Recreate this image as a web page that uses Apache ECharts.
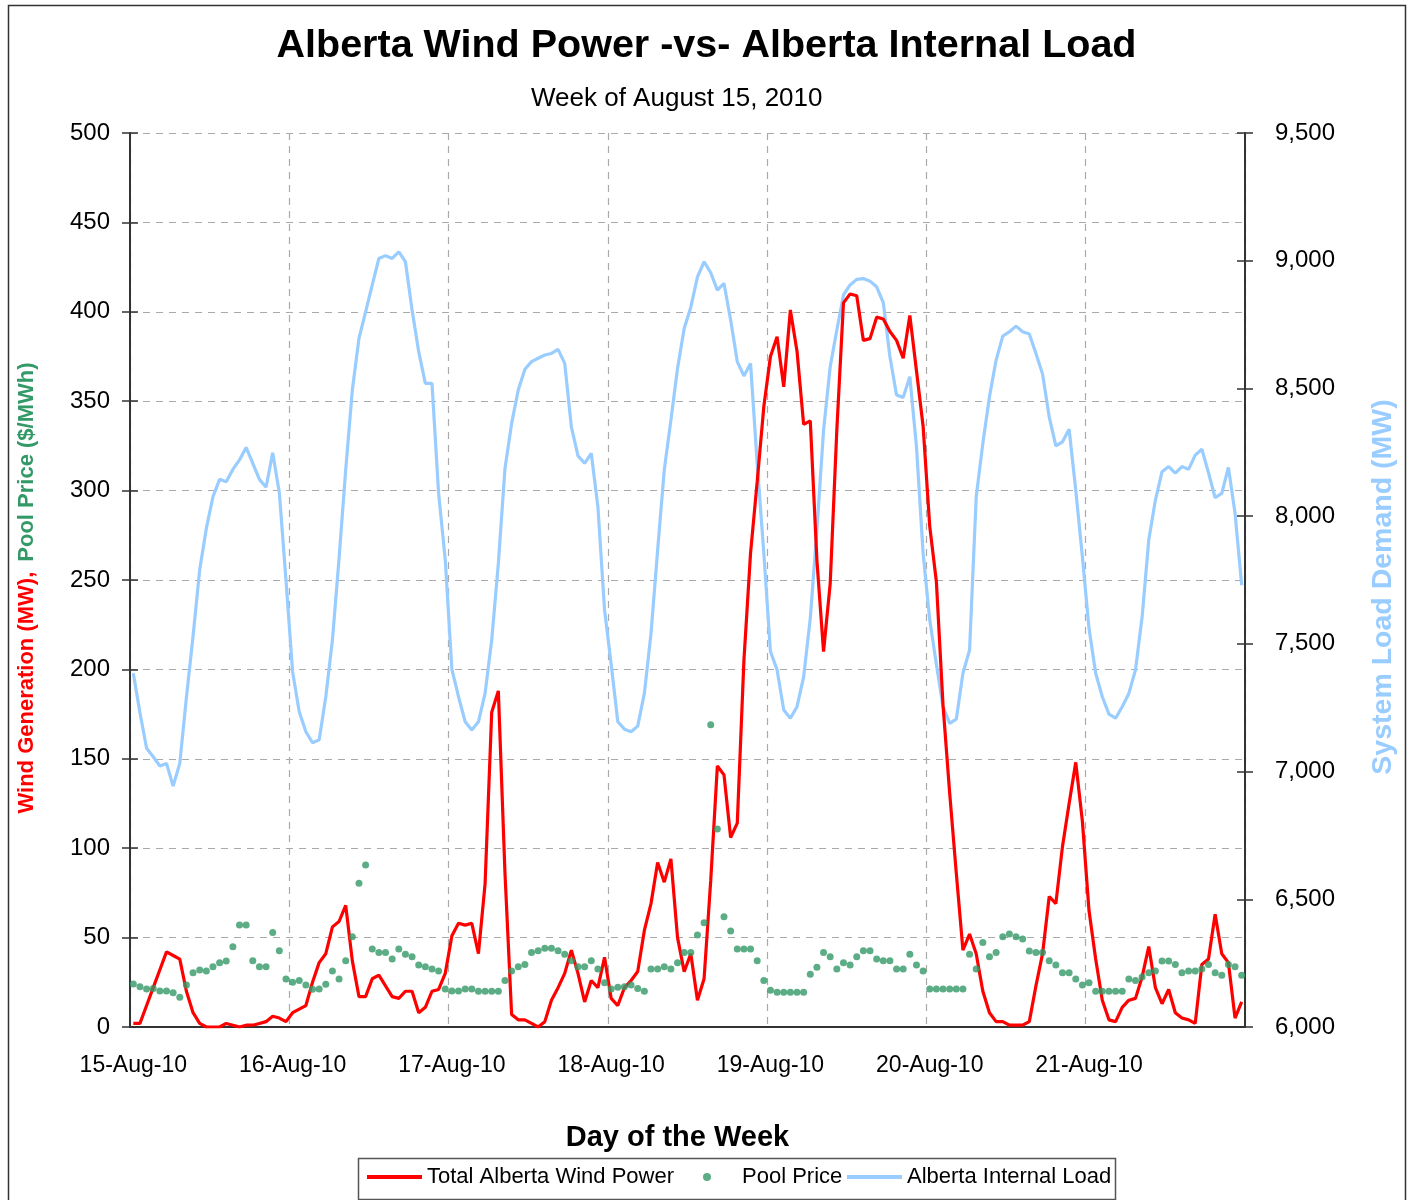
<!DOCTYPE html>
<html>
<head>
<meta charset="utf-8">
<title>Alberta Wind Power -vs- Alberta Internal Load</title>
<script src="https://cdn.jsdelivr.net/npm/echarts@6/dist/echarts.min.js"></script>
<style>
  html, body { margin: 0; padding: 0; background: #fff; }
  #chart { width: 1413px; height: 1200px; }
</style>
</head>
<body>
<div id="chart"></div>
<script>
// one label per day, 24 hourly points each
let days = ['15-Aug-10', '16-Aug-10', '17-Aug-10', '18-Aug-10', '19-Aug-10', '20-Aug-10', '21-Aug-10'];

// Total Alberta Wind Power (MW), hourly
let windPower = [
    2, 2, 12, 22, 32, 42, 40, 38, 20, 8, 2, 0, 0, 0, 2, 1, 0, 1, 1, 2, 3, 6, 5, 3,
    8, 10, 12, 25, 36, 41, 56, 59, 68, 37, 17, 17, 27, 29, 23, 17, 16, 20, 20, 8, 11, 20, 21, 30,
    51, 58, 57, 58, 41, 80, 176, 188, 86, 7, 4, 4, 2, 0, 3, 15, 22, 30, 43, 30, 14, 26, 22, 39,
    16, 12, 22, 26, 31, 54, 69, 92, 81, 94, 50, 31, 41, 15, 27, 82, 146, 141, 106, 114, 205, 265,
    305, 347, 375, 386, 358, 401, 378, 337, 339, 261, 210, 248, 334, 405, 410, 409, 384, 385, 397, 396,
    389, 384, 374, 398, 367, 336, 280, 249, 180, 131, 86, 43, 52, 41, 20, 8, 3, 3, 1, 1,
    1, 3, 23, 41, 73, 69, 101, 125, 148, 115, 65, 38, 15, 4, 3, 11, 15, 16, 28, 45,
    22, 13, 21, 8, 5, 4, 2, 35, 38, 63, 41, 36, 5, 14
];

// Pool Price ($/MWh), hourly
let poolPrice = [
    24, 22.5, 21.3, 21.6, 20.1, 20.1, 19.2, 16.6, 23.5, 30.4, 31.9, 31.3, 33.7, 36, 36.9, 44.9, 57, 57, 37, 33.7, 33.7, 52.8, 42.7, 26.8,
    25, 26, 23.5, 21.1, 21.3, 23.9, 31.3, 26.8, 37, 50.5, 80.4, 90.6, 43.6, 41.6, 41.6, 38, 43.6, 40.7, 39.3, 34.7, 33.7, 32.4, 31.3, 21.3,
    20.1, 20.1, 21.3, 21.3, 20, 20, 20, 20, 26, 31.3, 33.7, 35, 41.6, 42.7, 44, 44, 42.7, 40.7, 37, 33.7, 33.7, 37, 32.4, 24.8,
    21.3, 22.2, 22.5, 23.5, 21.6, 20, 32.4, 32.4, 33.7, 32.4, 36, 41.6, 41.6, 51.5, 58.3, 169, 110.7, 61.7, 53.7, 43.6, 43.6, 43.6,
    37, 26, 20.5, 19.4, 19.4, 19.4, 19.4, 19.4, 29.5, 33.4, 41.6, 39.3, 32.4, 36, 34.7, 39.3, 42.7, 42.7, 38, 37,
    37, 32.4, 32.4, 40.7, 34.7, 31.3, 21.3, 21.3, 21.3, 21.3, 21.3, 21.3, 40.7, 32.4, 47.2, 39.3, 41.6, 50.5, 52, 50.5,
    49.2, 42.5, 41.6, 41.6, 37, 34.7, 30.4, 30.4, 26.8, 23.5, 24.8, 20, 20, 20, 20, 20, 26.8, 26, 28, 30.4,
    31.3, 36.9, 36.9, 35, 30.4, 31.3, 31.3, 32.4, 35, 30.4, 29, 35, 33.7, 29
];

// Alberta Internal Load (MW), hourly
let internalLoad = [
    7385, 7230, 7091, 7058, 7022, 7032, 6943, 7032, 7290, 7530, 7790, 7952, 8076, 8144, 8135, 8183, 8220, 8269, 8207, 8144, 8113, 8248, 8092, 7750,
    7391, 7234, 7156, 7113, 7124, 7293, 7515, 7835, 8181, 8494, 8696, 8800, 8905, 9009, 9020, 9009, 9035, 8996, 8807, 8644, 8520, 8520, 8089, 7830,
    7400, 7293, 7195, 7163, 7195, 7306, 7515, 7815, 8187, 8363, 8494, 8575, 8605, 8618, 8631, 8637, 8653, 8598, 8350, 8236, 8207, 8246, 8037, 7633,
    7420, 7195, 7166, 7156, 7178, 7306, 7540, 7867, 8181, 8376, 8579, 8735, 8818, 8937, 8996, 8953, 8885, 8911, 8768, 8605, 8549, 8598, 8207, 7855,
    7470, 7398, 7241, 7209, 7254, 7371, 7600, 7946, 8337, 8585, 8729, 8866, 8905, 8927, 8930, 8920, 8898, 8836, 8624, 8474, 8465, 8546, 8272, 7855,
    7593, 7420, 7254, 7189, 7205, 7385, 7476, 8076, 8285, 8468, 8611, 8705, 8722, 8744, 8722, 8713, 8637, 8556, 8389, 8275, 8291, 8340, 8102, 7841,
    7560, 7385, 7293, 7225, 7209, 7254, 7306, 7398, 7606, 7907, 8063, 8174, 8194, 8168, 8194, 8183, 8239, 8262, 8170, 8072, 8089, 8191, 8011, 7730
];

let hours = [];
days.forEach(function (d) {
    for (let h = 0; h < 24; h++) {
        hours.push(d + ' ' + (h < 10 ? '0' + h : h) + ':00');
    }
});

let font = 'Liberation Sans, Arial, sans-serif';
let myChart = echarts.init(document.getElementById('chart'));

// each legend entry placed on its own, the box round them is a graphic
let legendText = { fontSize: 22, color: '#000', fontFamily: font };
let makeLegend = function (name, left, extra) {
    let lg = {
        top: 1166,
        left: left,
        padding: 0,
        itemWidth: 55,
        itemHeight: 8,
        itemGap: 0,
        lineStyle: { width: 4 },
        textStyle: legendText,
        data: [{ name: name, itemStyle: { opacity: 0 } }]
    };
    return Object.assign(lg, extra || {});
};

let option = {
    backgroundColor: '#fff',
    animation: false,
    textStyle: { fontFamily: font },
    title: [
        {
            text: 'Alberta Wind Power -vs- Alberta Internal Load',
            left: 'center',
            top: 21,
            textStyle: { fontSize: 39.5, fontWeight: 'bold', color: '#000', fontFamily: font }
        },
        {
            text: 'Week of August 15, 2010',
            left: 526,
            top: 81,
            textStyle: { fontSize: 26, fontWeight: 'normal', color: '#000', fontFamily: font }
        }
    ],
    graphic: [
        {
            type: 'rect',
            shape: { x: 8.5, y: 5.5, width: 1397, height: 1210 },
            style: { fill: 'none', stroke: '#333', lineWidth: 1.5 },
            silent: true
        },
        {
            type: 'rect',
            shape: { x: 358.5, y: 1158.5, width: 757, height: 41 },
            style: { fill: 'none', stroke: '#555', lineWidth: 1.5 },
            silent: true
        }
    ],
    legend: [
        makeLegend('Total Alberta Wind Power', 365),
        makeLegend('Pool Price', 703, {
            itemWidth: 8,
            textStyle: Object.assign({ padding: [0, 0, 0, 26] }, legendText),
            data: [{ name: 'Pool Price', icon: 'circle' }]
        }),
        makeLegend('Alberta Internal Load', 845)
    ],
    grid: {
        left: 130,
        right: 168,
        top: 133,
        bottom: 173
    },
    xAxis: {
        type: 'category',
        data: hours,
        boundaryGap: true,
        name: 'Day of the Week',
        nameLocation: 'middle',
        nameGap: 96,
        nameTextStyle: { fontSize: 29, fontWeight: 'bold', color: '#000', fontFamily: font, padding: [0, 20, 0, 0] },
        axisLine: { lineStyle: { color: '#333', width: 2 } },
        axisTick: { interval: 23, length: 9, lineStyle: { color: '#333', width: 1.5 } },
        axisLabel: {
            interval: 23,
            fontSize: 23,
            color: '#000',
            margin: 27,
            formatter: function (v) { return v.split(' ')[0]; }
        },
        splitLine: { show: true, interval: 23, lineStyle: { color: '#aaa', type: [7, 6], width: 1.2 } }
    },
    yAxis: [
        {
            type: 'value',
            min: 0,
            max: 500,
            interval: 50,
            position: 'left',
            name: '{r|Wind Generation (MW),}   {g|Pool Price ($/MWh)}',
            nameLocation: 'middle',
            nameRotate: 90,
            nameGap: 92,
            nameTextStyle: {
                padding: [0, 16, 0, 0],
                rich: {
                    r: { color: '#ff0000', fontSize: 22, fontWeight: 'bold', fontFamily: font },
                    g: { color: '#339966', fontSize: 22, fontWeight: 'bold', fontFamily: font }
                }
            },
            axisLine: { show: true, lineStyle: { color: '#333', width: 2 } },
            axisTick: { show: true, length: 8, lineStyle: { color: '#333', width: 1.5 } },
            axisLabel: { fontSize: 24, color: '#000', margin: 20 },
            splitLine: { show: true, lineStyle: { color: '#aaa', type: [7, 6], width: 1.2 } }
        },
        {
            type: 'value',
            min: 6000,
            max: 9500,
            interval: 500,
            position: 'right',
            name: 'System Load Demand (MW)',
            nameLocation: 'middle',
            nameRotate: 90,
            nameGap: 124,
            nameTextStyle: { color: '#99ccff', fontSize: 28.5, fontWeight: 'bold', fontFamily: font, padding: [0, 14, 0, 0] },
            axisLine: { show: true, lineStyle: { color: '#333', width: 2 } },
            axisTick: { show: true, length: 8, lineStyle: { color: '#333', width: 1.5 } },
            axisLabel: {
                fontSize: 24,
                color: '#000',
                margin: 30,
                formatter: function (v) { return v.toLocaleString('en-US'); }
            },
            splitLine: { show: false }
        },
        // inner halves of the crossing ticks on both value axes
        {
            type: 'value',
            min: 0,
            max: 500,
            interval: 50,
            position: 'left',
            axisLine: { show: false },
            axisTick: { show: true, inside: true, length: 8, lineStyle: { color: '#333', width: 1.5 } },
            axisLabel: { show: false },
            splitLine: { show: false }
        },
        {
            type: 'value',
            min: 6000,
            max: 9500,
            interval: 500,
            position: 'right',
            axisLine: { show: false },
            axisTick: { show: true, inside: true, length: 8, lineStyle: { color: '#333', width: 1.5 } },
            axisLabel: { show: false },
            splitLine: { show: false }
        }
    ],
    series: [
        {
            name: 'Total Alberta Wind Power',
            type: 'line',
            yAxisIndex: 0,
            data: windPower,
            symbol: 'none',
            z: 4,
            itemStyle: { color: '#ff0000' },
            lineStyle: { color: '#ff0000', width: 3.2 }
        },
        {
            name: 'Pool Price',
            type: 'scatter',
            yAxisIndex: 0,
            data: poolPrice,
            symbol: 'circle',
            symbolSize: 7,
            z: 5,
            itemStyle: { color: '#339966' }
        },
        {
            name: 'Alberta Internal Load',
            type: 'line',
            yAxisIndex: 1,
            data: internalLoad,
            symbol: 'none',
            z: 3,
            itemStyle: { color: '#99ccff' },
            lineStyle: { color: '#99ccff', width: 3.2 }
        }
    ]
};
myChart.setOption(option);
</script>
</body>
</html>
